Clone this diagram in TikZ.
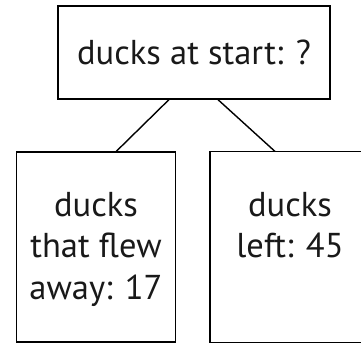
\documentclass[tikz,border=0pt]{standalone}
\usepackage{fontspec}
\setmainfont{PT Sans}
\tikzstyle{every node}+=[inner sep=0pt,text=black!90]
\tikzstyle{box}=[draw,minimum width=272pt,minimum height=93pt,font=\fontsize{34.5}{42}\selectfont]
\tikzstyle{leaf}=[minimum width=159pt,minimum height=190pt]
\tikzstyle{leaftext}=[align=center,anchor=north,font=\fontsize{34.5}{41.7}\selectfont]
\usetikzlibrary{positioning}

\begin{document}
\begin{tikzpicture}[x=1pt,y=-1pt,line width=1.4pt]
\clip (0,0) rectangle (361,343);
\node[box] (start) at (194,52.5) {ducks at start: ?};
\node[leaf,draw] (flew) at (96,247) {};
\node[leaf] (remain) at (290,247) {};
\draw (remain.north east) -- (remain.north west) -- (remain.south west) -- (remain.south east);
\node[leaftext,below=40pt of flew.north] (flewtext) {ducks\\that flew\\away: 17};
\node[leaftext,below=40pt of remain.north] (remaintext) {ducks\\left: 45};

\draw (start.242.7) -- (flew.78.7);
\draw (start.297.3) -- (remain.99);
\end{tikzpicture}
\end{document}
